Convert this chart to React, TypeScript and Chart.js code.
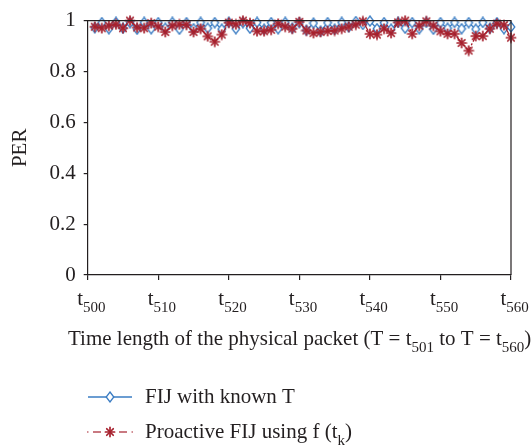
import { useEffect, useRef } from 'react';
import { Chart, registerables } from 'chart.js';

Chart.register(...registerables);

const FONT = '"Liberation Serif", "Times New Roman", serif';
const INK = '#231f20';
const BLUE = '#3a7cc3';
const RED = '#a6202d';
const BIG = 21;
const SMALL = 15;

const times = [
  501, 502, 503, 504, 505, 506, 507, 508, 509, 510,
  511, 512, 513, 514, 515, 516, 517, 518, 519, 520,
  521, 522, 523, 524, 525, 526, 527, 528, 529, 530,
  531, 532, 533, 534, 535, 536, 537, 538, 539, 540,
  541, 542, 543, 544, 545, 546, 547, 548, 549, 550,
  551, 552, 553, 554, 555, 556, 557, 558, 559, 560,
];

const fijKnownT = [
  0.972, 0.992, 0.968, 0.993, 0.970, 0.992, 0.966, 0.993, 0.968, 0.992,
  0.970, 0.993, 0.966, 0.992, 0.968, 0.993, 0.970, 0.992, 0.966, 0.993,
  0.968, 0.992, 0.970, 0.993, 0.966, 0.992, 0.968, 0.993, 0.970, 0.992,
  0.962, 0.990, 0.958, 0.992, 0.966, 0.993, 0.975, 0.996, 0.985, 0.998,
  0.968, 0.992, 0.966, 0.993, 0.970, 0.992, 0.968, 0.993, 0.966, 0.992,
  0.970, 0.993, 0.968, 0.992, 0.966, 0.993, 0.970, 0.992, 0.968, 0.975,
];

const proactiveFij = [
  0.976, 0.970, 0.980, 0.985, 0.970, 1.0, 0.973, 0.970, 0.990, 0.976,
  0.955, 0.980, 0.985, 0.983, 0.955, 0.968, 0.938, 0.917, 0.945, 0.992,
  0.985, 1.0, 0.990, 0.958, 0.958, 0.964, 0.988, 0.976, 0.968, 0.995,
  0.961, 0.951, 0.955, 0.959, 0.961, 0.968, 0.976, 0.984, 0.997, 0.948,
  0.945, 0.968, 0.951, 0.993, 1.0, 0.948, 0.980, 0.997, 0.980, 0.958,
  0.948, 0.948, 0.912, 0.882, 0.939, 0.939, 0.968, 0.988, 0.982, 0.933,
];

const xTickValues = [500, 510, 520, 530, 540, 550, 560];
const xTickSubs = ['500', '510', '520', '530', '540', '550', '560'];

const yTitle = 'PER';
const legendBlue = 'FIJ with known T';

function makeDiamond(): HTMLCanvasElement {
  const c = document.createElement('canvas');
  c.width = 10;
  c.height = 12;
  const g = c.getContext('2d')!;
  g.strokeStyle = BLUE;
  g.lineWidth = 1.3;
  g.fillStyle = '#ffffff';
  g.beginPath();
  g.moveTo(5, 1);
  g.lineTo(8.8, 6);
  g.lineTo(5, 11);
  g.lineTo(1.2, 6);
  g.closePath();
  g.fill();
  g.stroke();
  return c;
}

function makeStar(): HTMLCanvasElement {
  const c = document.createElement('canvas');
  c.width = 12;
  c.height = 12;
  const g = c.getContext('2d')!;
  g.strokeStyle = RED;
  g.lineWidth = 1.7;
  g.lineCap = 'round';
  const cx = 6, cy = 6, r = 4.6;
  for (let i = 0; i < 4; i++) {
    const a = (i * Math.PI) / 4;
    g.beginPath();
    g.moveTo(cx - Math.cos(a) * r, cy - Math.sin(a) * r);
    g.lineTo(cx + Math.cos(a) * r, cy + Math.sin(a) * r);
    g.stroke();
  }
  return c;
}

function drawSegments(ctx: CanvasRenderingContext2D, x: number, y: number, parts: [string, boolean][]) {
  let cx = x;
  for (const [txt, sub] of parts) {
    ctx.font = `${sub ? SMALL : BIG}px ${FONT}`;
    ctx.fillText(txt, cx, sub ? y + 7 : y);
    cx += ctx.measureText(txt).width;
  }
  return cx;
}

export default function App() {
  const ref = useRef<HTMLCanvasElement | null>(null);

  useEffect(() => {
    if (!ref.current) return;
    const diamond = makeDiamond();
    const star = makeStar();

    const overlay = {
      id: 'overlay',
      afterDraw(chart: any) {
        const ctx: CanvasRenderingContext2D = chart.ctx;
        const { left, right, top, bottom } = chart.chartArea;
        const xs = chart.scales.x;
        ctx.save();
        ctx.strokeStyle = INK;
        ctx.lineWidth = 1.2;
        ctx.beginPath();
        ctx.moveTo(left, top);
        ctx.lineTo(right, top);
        ctx.lineTo(right, bottom);
        ctx.stroke();

        ctx.fillStyle = INK;
        ctx.textBaseline = 'alphabetic';
        ctx.textAlign = 'left';
        xTickValues.forEach((v, i) => {
          const px = xs.getPixelForValue(v);
          drawSegments(ctx, px - 10.5, 305, [['t', false], [xTickSubs[i], true]]);
        });
        drawSegments(ctx, 68, 345, [
          ['Time length of the physical packet (T = t', false],
          ['501', true],
          [' to T = t', false],
          ['560', true],
          [')', false],
        ]);

        ctx.strokeStyle = BLUE;
        ctx.lineWidth = 1.3;
        ctx.beginPath();
        ctx.moveTo(88, 397);
        ctx.lineTo(132, 397);
        ctx.stroke();
        ctx.drawImage(diamond, 110 - diamond.width / 2, 397 - diamond.height / 2);

        ctx.strokeStyle = RED;
        ctx.lineWidth = 1.2;
        const segs = [[87, 88.5], [93, 101], [119, 127], [131.5, 133]];
        segs.forEach(([a, b]) => {
          ctx.beginPath();
          ctx.moveTo(a, 432);
          ctx.lineTo(b, 432);
          ctx.stroke();
        });
        ctx.drawImage(star, 110 - star.width / 2, 432 - star.height / 2);

        ctx.fillStyle = INK;
        drawSegments(ctx, 145, 403, [[legendBlue, false]]);
        drawSegments(ctx, 145, 438, [['Proactive FIJ using f (t', false], ['k', true], [')', false]]);
        ctx.restore();
      },
    };

    const chart = new Chart(ref.current, {
      type: 'line',
      data: {
        datasets: [
          {
            label: 'Proactive FIJ using f (tk)',
            data: times.map((t, i) => ({ x: t, y: proactiveFij[i] })),
            borderColor: RED,
            borderWidth: 1.3,
            borderDash: [8, 2, 2, 2],
            pointStyle: star as any,
            pointRadius: 5,
            clip: false as any,
            order: 0,
          },
          {
            label: legendBlue,
            data: times.map((t, i) => ({ x: t, y: fijKnownT[i] })),
            borderColor: BLUE,
            borderWidth: 1.3,
            pointStyle: diamond as any,
            pointRadius: 5,
            clip: false as any,
            order: 1,
          },
        ],
      },
      options: {
        animation: false,
        responsive: false,
        maintainAspectRatio: false,
        layout: { padding: { top: 8, right: 21, left: 0, bottom: 0 } },
        plugins: { legend: { display: false }, tooltip: { enabled: false } },
        scales: {
          x: {
            type: 'linear',
            min: 500,
            max: 560,
            ticks: { stepSize: 10, callback: () => '', font: { family: FONT, size: BIG } },
            grid: { drawOnChartArea: false, drawTicks: true, tickLength: 5, color: INK, lineWidth: 1.2 },
            border: { display: true, color: INK, width: 1.2 },
            afterFit: (s: any) => { s.height = 173; },
          },
          y: {
            min: 0,
            max: 1,
            ticks: {
              stepSize: 0.2,
              padding: 8,
              color: INK,
              font: { family: FONT, size: BIG },
              callback: (v: any) => {
                const n = Number(v);
                if (Math.abs(n) < 1e-9) return '0';
                if (Math.abs(n - 1) < 1e-9) return '1';
                return n.toFixed(1);
              },
            },
            grid: { drawOnChartArea: false, drawTicks: true, tickLength: 4, color: INK, lineWidth: 1.2 },
            border: { display: true, color: INK, width: 1.2 },
            title: { display: true, text: yTitle, color: INK, font: { family: FONT, size: BIG }, padding: { top: 8, bottom: 0 } },
            afterFit: (s: any) => { s.width = 87.7; },
          },
        },
      },
      plugins: [overlay],
    });
    return () => chart.destroy();
  }, []);

  return (
    <div style={{ position: 'fixed', left: 0, top: 0, width: 532, height: 448, background: '#fff' }}>
      <canvas ref={ref} width={532} height={448} style={{ width: 532, height: 448 }} />
    </div>
  );
}
